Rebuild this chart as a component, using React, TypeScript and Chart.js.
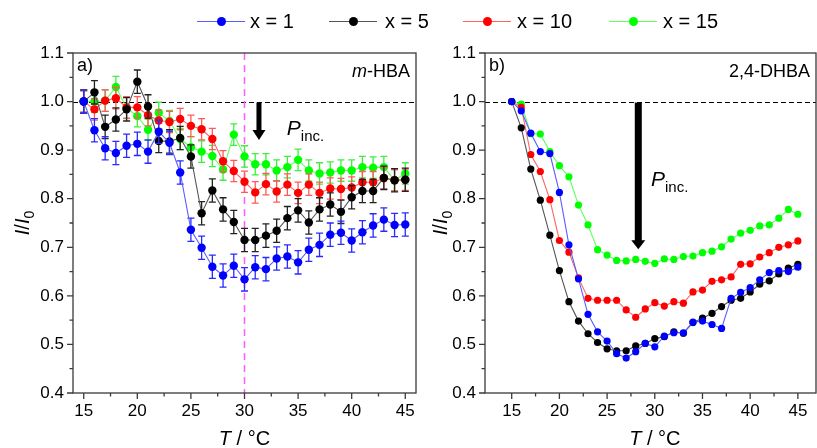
import React, { useEffect, useRef } from "react";
import { Chart, registerables } from "chart.js";

Chart.register(...registerables);

// ---------------- data ----------------
const temperatures = [15, 16, 17, 18, 19, 20, 21, 22, 23, 24, 25, 26, 27, 28, 29, 30, 31, 32, 33, 34, 35, 36, 37, 38, 39, 40, 41, 42, 43, 44, 45];

const seriesLabels = ["x = 1", "x = 5", "x = 10", "x = 15"];

// panel a) m-HBA
const mhbaX1 = [1.000, 0.941, 0.904, 0.894, 0.909, 0.913, 0.897, 0.938, 0.915, 0.854, 0.736, 0.699, 0.660, 0.642, 0.662, 0.634, 0.659, 0.655, 0.677, 0.681, 0.669, 0.695, 0.705, 0.726, 0.730, 0.714, 0.731, 0.745, 0.757, 0.746, 0.747];
const mhbaX5 = [1.000, 1.019, 0.948, 0.963, 0.984, 1.041, 0.990, 0.919, 0.918, 0.925, 0.887, 0.770, 0.817, 0.778, 0.752, 0.715, 0.715, 0.724, 0.734, 0.760, 0.776, 0.751, 0.778, 0.788, 0.773, 0.803, 0.816, 0.816, 0.843, 0.838, 0.839];
const mhbaX10 = [1.000, 0.984, 1.002, 1.007, 0.988, 0.988, 0.972, 0.961, 0.958, 0.964, 0.950, 0.943, 0.923, 0.877, 0.857, 0.835, 0.813, 0.830, 0.815, 0.829, 0.812, 0.829, 0.812, 0.821, 0.820, 0.823, 0.834, 0.834, 0.842, 0.838, 0.839];
const mhbaX15 = [1.000, 1.000, 1.002, 1.030, 0.987, 0.970, 0.942, 0.977, 0.960, 0.923, 0.906, 0.897, 0.888, 0.860, 0.932, 0.887, 0.871, 0.871, 0.858, 0.865, 0.880, 0.858, 0.852, 0.854, 0.858, 0.858, 0.865, 0.864, 0.865, 0.838, 0.852];
const mhbaErrors = [0.024, 0.024, 0.022, 0.022];

// panel b) 2,4-DHBA
const dhbaX1 = [1.000, 0.981, 0.935, 0.897, 0.893, 0.813, 0.705, 0.635, 0.562, 0.526, 0.507, 0.481, 0.472, 0.485, 0.502, 0.495, 0.517, 0.524, 0.524, 0.546, 0.548, 0.541, 0.533, 0.595, 0.607, 0.617, 0.633, 0.648, 0.652, 0.650, 0.659];
const dhbaX5 = [1.000, 0.946, 0.861, 0.797, 0.725, 0.652, 0.588, 0.548, 0.522, 0.504, 0.491, 0.487, 0.487, 0.497, 0.502, 0.512, 0.516, 0.526, 0.523, 0.545, 0.554, 0.564, 0.578, 0.591, 0.595, 0.608, 0.624, 0.631, 0.645, 0.657, 0.665];
const dhbaX10 = [1.000, 0.988, 0.891, 0.856, 0.798, 0.714, 0.690, 0.637, 0.595, 0.591, 0.591, 0.591, 0.571, 0.556, 0.573, 0.586, 0.579, 0.588, 0.585, 0.608, 0.612, 0.630, 0.633, 0.639, 0.665, 0.666, 0.680, 0.689, 0.700, 0.705, 0.713];
const dhbaX15 = [1.000, 0.995, 0.934, 0.933, 0.897, 0.868, 0.845, 0.787, 0.746, 0.695, 0.684, 0.673, 0.672, 0.675, 0.671, 0.667, 0.676, 0.675, 0.681, 0.682, 0.689, 0.692, 0.701, 0.717, 0.729, 0.735, 0.744, 0.746, 0.760, 0.778, 0.768];

const xTicks = [15, 20, 25, 30, 35, 40, 45];
const yTicks = [0.4, 0.5, 0.6, 0.7, 0.8, 0.9, 1.0, 1.1];
const referenceLevel = 1.0;
const mhbaMarkerT = 30;
const mhbaArrow = { x: 31.35, from: 1.0, to: 0.921 };
const dhbaArrow = { x: 28.27, from: 1.0, to: 0.696 };
const mhbaPinc = { x: 33.95, y: 0.931 };
const dhbaPinc = { x: 29.6, y: 0.826 };

// ---------------- styles ----------------
const FONT = '"Liberation Sans", Arial, Helvetica, sans-serif';
const markerColors = ["#0000ff", "#000000", "#ff0000", "#00ff00"];
const lineColors = ["#5c5cff", "#555555", "#ff6464", "#60ff60"];
const errorColors = ["#2a2aff", "#222222", "#ff5a5a", "#3cf03c"];

type Part = { t: string; italic?: boolean; size: number; dy?: number };

function drawParts(ctx: CanvasRenderingContext2D, parts: Part[], x: number, y: number, align: "left" | "center" | "right") {
  const widths = parts.map((p) => {
    ctx.font = `${p.italic ? "italic " : ""}${p.size}px ${FONT}`;
    return ctx.measureText(p.t).width;
  });
  const total = widths.reduce((a, b) => a + b, 0);
  let cx = align === "left" ? x : align === "center" ? x - total / 2 : x - total;
  ctx.textAlign = "left";
  ctx.textBaseline = "alphabetic";
  parts.forEach((p, i) => {
    ctx.font = `${p.italic ? "italic " : ""}${p.size}px ${FONT}`;
    ctx.fillText(p.t, cx, y + (p.dy || 0));
    cx += widths[i];
  });
}

function midpoints(arr: number[]) {
  const out: number[] = [];
  for (let i = 0; i < arr.length - 1; i++) out.push((arr[i] + arr[i + 1]) / 2);
  return out;
}

function drawArrow(ctx: CanvasRenderingContext2D, x: number, y0: number, y1: number, shaft: number, headW: number, headL: number) {
  ctx.save();
  ctx.fillStyle = "#000";
  ctx.fillRect(x - shaft / 2, y0, shaft, y1 - y0 - headL + 1);
  ctx.beginPath();
  ctx.moveTo(x - headW / 2, y1 - headL);
  ctx.lineTo(x + headW / 2, y1 - headL);
  ctx.lineTo(x, y1);
  ctx.closePath();
  ctx.fill();
  ctx.restore();
}

type PanelCfg = {
  label: string;
  compound: Part[];
  yTitleX: number;
  marker?: number;
  arrow: { x: number; from: number; to: number };
  arrowShaft: number;
  arrowHeadW: number;
  arrowHeadL: number;
  pinc: { x: number; y: number };
};

function makeDecorPlugin(cfg: PanelCfg) {
  return {
    id: "decor",
    beforeDatasetsDraw(chart: any) {
      const { ctx, chartArea } = chart;
      const xs = chart.scales.x;
      const ys = chart.scales.y;
      ctx.save();
      ctx.strokeStyle = "#000";
      ctx.lineWidth = 1;
      ctx.setLineDash([5, 3]);
      const yr = Math.round(ys.getPixelForValue(referenceLevel)) + 0.5;
      ctx.beginPath();
      ctx.moveTo(chartArea.left, yr);
      ctx.lineTo(chartArea.right, yr);
      ctx.stroke();
      if (cfg.marker !== undefined) {
        ctx.strokeStyle = "#ff5cff";
        ctx.lineWidth = 1.5;
        ctx.setLineDash([7, 5]);
        const xm = xs.getPixelForValue(cfg.marker);
        ctx.beginPath();
        ctx.moveTo(xm, chartArea.top);
        ctx.lineTo(xm, chartArea.bottom);
        ctx.stroke();
      }
      ctx.restore();
    },
    afterDraw(chart: any) {
      const { ctx, chartArea } = chart;
      const xs = chart.scales.x;
      const ys = chart.scales.y;
      ctx.save();
      ctx.strokeStyle = "#3a3a3a";
      ctx.lineWidth = 1.3;
      ctx.setLineDash([]);
      ctx.strokeRect(chartArea.left, chartArea.top, chartArea.right - chartArea.left, chartArea.bottom - chartArea.top);
      ctx.beginPath();
      yTicks.forEach((v) => {
        const y = ys.getPixelForValue(v);
        ctx.moveTo(chartArea.left, y);
        ctx.lineTo(chartArea.left - 6, y);
      });
      midpoints(yTicks).forEach((v) => {
        const y = ys.getPixelForValue(v);
        ctx.moveTo(chartArea.left, y);
        ctx.lineTo(chartArea.left - 3.5, y);
      });
      xTicks.forEach((v) => {
        const x = xs.getPixelForValue(v);
        ctx.moveTo(x, chartArea.bottom);
        ctx.lineTo(x, chartArea.bottom + 6);
      });
      midpoints(xTicks).forEach((v) => {
        const x = xs.getPixelForValue(v);
        ctx.moveTo(x, chartArea.bottom);
        ctx.lineTo(x, chartArea.bottom + 3.5);
      });
      ctx.stroke();

      ctx.fillStyle = "#000";
      drawParts(ctx, [{ t: cfg.label, size: 18 }], chartArea.left + 4, chartArea.top + 18, "left");
      drawParts(ctx, cfg.compound, chartArea.right - 6, chartArea.top + 24, "right");
      drawArrow(ctx, xs.getPixelForValue(cfg.arrow.x), ys.getPixelForValue(cfg.arrow.from) + 1, ys.getPixelForValue(cfg.arrow.to), cfg.arrowShaft, cfg.arrowHeadW, cfg.arrowHeadL);
      drawParts(
        ctx,
        [
          { t: "P", italic: true, size: 21 },
          { t: "inc.", size: 15, dy: 6 },
        ],
        xs.getPixelForValue(cfg.pinc.x),
        ys.getPixelForValue(cfg.pinc.y),
        "left"
      );
      drawParts(
        ctx,
        [
          { t: "T", italic: true, size: 20 },
          { t: " / °C", size: 20 },
        ],
        xs.getPixelForValue(30),
        chartArea.bottom + 52,
        "center"
      );
      ctx.translate(cfg.yTitleX, (chartArea.top + chartArea.bottom) / 2);
      ctx.rotate(-Math.PI / 2);
      drawParts(
        ctx,
        [
          { t: "I", italic: true, size: 20 },
          { t: "/", size: 20 },
          { t: "I", italic: true, size: 20 },
          { t: "0", size: 14, dy: 5 },
        ],
        0,
        0,
        "center"
      );
      ctx.restore();
    },
  };
}

const errorBarPlugin = {
  id: "errorBars",
  beforeDatasetDraw(chart: any, args: any) {
    const ds = chart.data.datasets[args.index];
    if (ds.errorValue === undefined) return;
    const ctx = chart.ctx;
    const ys = chart.scales.y;
    ctx.save();
    ctx.strokeStyle = ds.errorColor;
    ctx.lineWidth = 1.3;
    ctx.setLineDash([]);
    ctx.beginPath();
    args.meta.data.forEach((pt: any, i: number) => {
      const v = ds.data[i].y;
      const yTop = ys.getPixelForValue(v + ds.errorValue);
      const yBot = ys.getPixelForValue(v - ds.errorValue);
      ctx.moveTo(pt.x, yTop);
      ctx.lineTo(pt.x, yBot);
      ctx.moveTo(pt.x - 3.5, yTop);
      ctx.lineTo(pt.x + 3.5, yTop);
      ctx.moveTo(pt.x - 3.5, yBot);
      ctx.lineTo(pt.x + 3.5, yBot);
    });
    ctx.stroke();
    ctx.restore();
  },
};

function buildChart(
  canvas: HTMLCanvasElement,
  series: number[][],
  errors: number[] | null,
  xMin: number,
  xMax: number,
  yAxisWidth: number,
  rightPad: number,
  radius: number,
  cfg: PanelCfg
) {
  const datasets = series.map((vals, i) => ({
    label: seriesLabels[i],
    data: temperatures.map((t, j) => ({ x: t, y: vals[j] })),
    borderColor: lineColors[i],
    backgroundColor: markerColors[i],
    pointBackgroundColor: markerColors[i],
    pointBorderColor: markerColors[i],
    pointBorderWidth: 0,
    pointRadius: radius,
    borderWidth: 1.1,
    tension: 0,
    fill: false,
    errorValue: errors ? errors[i] : undefined,
    errorColor: errorColors[i],
  }));
  const tickFont = { family: FONT, size: 17 };
  return new Chart(canvas, {
    type: "line",
    data: { datasets: datasets as any },
    plugins: [errorBarPlugin, makeDecorPlugin(cfg)] as any,
    options: {
      animation: false,
      responsive: false,
      devicePixelRatio: 1,
      events: [],
      parsing: false as any,
      normalized: true,
      layout: { padding: { left: 0, top: 53, right: rightPad, bottom: 0 } },
      plugins: { legend: { display: false }, tooltip: { enabled: false } },
      scales: {
        x: {
          type: "linear",
          min: xMin,
          max: xMax,
          grid: { display: false, drawTicks: false },
          border: { display: false },
          afterBuildTicks: (s: any) => {
            s.ticks = xTicks.map((v) => ({ value: v }));
          },
          afterFit: (s: any) => {
            s.height = 55;
          },
          ticks: {
            font: tickFont,
            color: "#000",
            padding: 8,
            autoSkip: false,
            maxRotation: 0,
            callback: (v: any) => String(v),
          },
        },
        y: {
          type: "linear",
          min: 0.4,
          max: 1.1,
          grid: { display: false, drawTicks: false },
          border: { display: false },
          afterBuildTicks: (s: any) => {
            s.ticks = yTicks.map((v) => ({ value: v }));
          },
          afterFit: (s: any) => {
            s.width = yAxisWidth;
          },
          ticks: {
            font: tickFont,
            color: "#000",
            padding: 9,
            autoSkip: false,
            callback: (v: any) => Number(v).toFixed(1),
          },
        },
      },
    } as any,
  });
}

const legendLayout = [
  { lineX: 197, textX: 250 },
  { lineX: 329, textX: 385 },
  { lineX: 463, textX: 517 },
  { lineX: 609, textX: 663 },
];

export default function App() {
  const leftRef = useRef<HTMLCanvasElement | null>(null);
  const rightRef = useRef<HTMLCanvasElement | null>(null);

  useEffect(() => {
    if (!leftRef.current || !rightRef.current) return;
    const left = buildChart(leftRef.current, [mhbaX1, mhbaX5, mhbaX10, mhbaX15], mhbaErrors, 14, 46, 73, 9, 4.2, {
      label: "a)",
      compound: [
        { t: "m", italic: true, size: 18 },
        { t: "-HBA", size: 18 },
      ],
      yTitleX: 29,
      marker: mhbaMarkerT,
      arrow: mhbaArrow,
      arrowShaft: 5,
      arrowHeadW: 13,
      arrowHeadL: 10,
      pinc: mhbaPinc,
    });
    const right = buildChart(rightRef.current, [dhbaX1, dhbaX5, dhbaX10, dhbaX15], null, 12.2, 46.9, 60, 2, 3.6, {
      label: "b)",
      compound: [{ t: "2,4-DHBA", size: 18 }],
      yTitleX: 22,
      arrow: dhbaArrow,
      arrowShaft: 7,
      arrowHeadW: 14,
      arrowHeadL: 9,
      pinc: dhbaPinc,
    });
    return () => {
      left.destroy();
      right.destroy();
    };
  }, []);

  return (
    <div style={{ position: "absolute", left: 0, top: 0, width: 817, height: 448, overflow: "hidden", background: "#fff" }}>
      <canvas ref={leftRef} width={425} height={448} style={{ position: "absolute", left: 0, top: 0, width: 425, height: 448 }} />
      <canvas ref={rightRef} width={395} height={448} style={{ position: "absolute", left: 425, top: 0, width: 395, height: 448 }} />
      {seriesLabels.map((lab, i) => (
        <div key={lab}>
          <div
            style={{
              position: "absolute",
              left: legendLayout[i].lineX,
              top: 21,
              width: 48,
              height: 0,
              borderTop: `1.5px solid ${lineColors[i]}`,
            }}
          />
          <div
            style={{
              position: "absolute",
              left: legendLayout[i].lineX + 24 - 4.5,
              top: 21.75 - 4.5,
              width: 9,
              height: 9,
              borderRadius: "50%",
              background: markerColors[i],
            }}
          />
          <div
            style={{
              position: "absolute",
              left: legendLayout[i].textX,
              top: 9,
              fontFamily: FONT,
              fontSize: 20,
              lineHeight: "24px",
              color: "#000",
              whiteSpace: "nowrap",
            }}
          >
            {lab}
          </div>
        </div>
      ))}
    </div>
  );
}
